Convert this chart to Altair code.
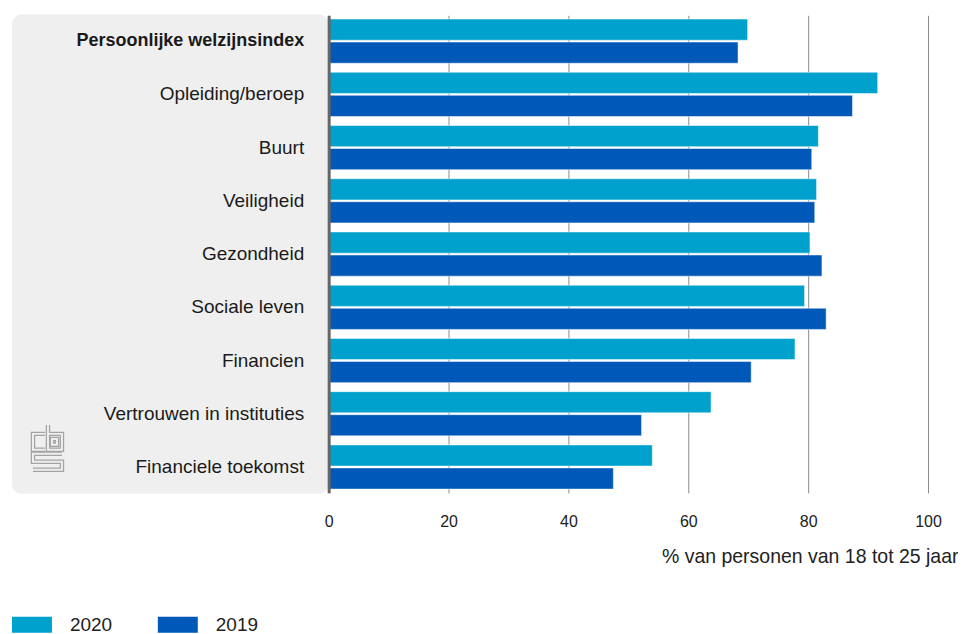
import altair as alt
import pandas as pd

categories = [
    "Persoonlijke welzijnsindex",
    "Opleiding/beroep",
    "Buurt",
    "Veiligheid",
    "Gezondheid",
    "Sociale leven",
    "Financien",
    "Vertrouwen in instituties",
    "Financiele toekomst",
]
years = ["2020", "2019"]
values_2020 = [69.9, 91.6, 81.7, 81.4, 80.3, 79.4, 77.8, 63.8, 54.0]
values_2019 = [68.3, 87.4, 80.6, 81.1, 82.3, 83.0, 70.5, 52.2, 47.5]
colors = ["#00a1cd", "#0058b8"]

rows = []
for c, a, b in zip(categories, values_2020, values_2019):
    rows.append({"cat": c, "year": "2020", "value": a})
    rows.append({"cat": c, "year": "2019", "value": b})
df = pd.DataFrame(rows)

FONT = "Liberation Sans"

bars = alt.Chart(df).mark_bar(stroke="white", strokeWidth=0.5).encode(
    x=alt.X(
        "value:Q",
        scale=alt.Scale(domain=[0, 100]),
        axis=alt.Axis(
            values=[0, 20, 40, 60, 80, 100],
            grid=True,
            gridColor="#8c8c8c",
            gridWidth=1,
            domain=False,
            ticks=False,
            tickSize=0,
            labelFlush=False,
            labelPadding=21,
            labelFontSize=16,
            labelColor="#222222",
            labelFont=FONT,
            title="% van personen van 18 tot 25 jaar",
            titleFont=FONT,
            titleFontSize=19.5,
            titleFontWeight="normal",
            titleColor="#222222",
            titleAnchor="end",
            titleAlign="right",
            titleX=630,
            titleY=55,
        ),
    ),
    y=alt.Y(
        "cat:N",
        sort=categories,
        scale=alt.Scale(paddingInner=0.17, paddingOuter=0.07),
        axis=alt.Axis(
            title=None,
            ticks=False,
            grid=False,
            domainColor="#666666",
            domainWidth=3,
            labelPadding=25,
            labelFontSize={"expr": "datum.value == 'Persoonlijke welzijnsindex' ? 18 : 19"},
            labelFont=FONT,
            labelColor="#1a1a1a",
            labelFontWeight={"expr": "datum.value == 'Persoonlijke welzijnsindex' ? 'bold' : 'normal'"},
            labelLimit=400,
            zindex=1,
        ),
    ),
    yOffset=alt.YOffset("year:N", sort=years, scale=alt.Scale(paddingInner=0.08)),
    color=alt.Color(
        "year:N",
        sort=years,
        scale=alt.Scale(domain=years, range=colors),
        legend=alt.Legend(
            title=None,
            orient="none",
            legendX=-317,
            legendY=590,
            direction="horizontal",
            symbolType="M-1,-0.4H1V0.4H-1Z",
            symbolSize=1600,
            symbolStrokeWidth=0,
            symbolOpacity=1,
            labelFontSize=19,
            labelFont=FONT,
            labelColor="#222222",
            labelOffset=18,
            columnPadding=45,
            padding=0,
        ),
    ),
)

panel = alt.Chart(pd.DataFrame({"p": [1]})).mark_rect(
    color="#efefef", cornerRadius=10
).encode(
    x=alt.value(-317), x2=alt.value(0), y=alt.value(-1), y2=alt.value(479)
)

logo_path = (
    "M-0.085,-0.596H-0.596V0.085H-0.085"
    "M0.043,-0.979V0.085H0.638V-0.596H0.043"
    "M0.213,-0.383H0.426V-0.128H0.213Z"
    "M0.638,0.255H-0.596V0.596H0.638V0.936H-0.596"
)
logo_outer = alt.Chart(pd.DataFrame({"p": [1]})).mark_point(
    shape=logo_path, filled=False, stroke="#a3a3a3", strokeWidth=4.5, size=2209, opacity=1
).encode(x=alt.value(-282), y=alt.value(433))
logo_inner = alt.Chart(pd.DataFrame({"p": [1]})).mark_point(
    shape=logo_path, filled=False, stroke="#efefef", strokeWidth=2, size=2209, opacity=1
).encode(x=alt.value(-282), y=alt.value(433))

chart = alt.layer(panel, bars, logo_outer, logo_inner).properties(
    width=600,
    height=478,
    padding={"left": 4, "top": 6, "right": 0, "bottom": 0},
).configure_view(stroke=None)

chart.save("out.html", embed_options={"renderer": "svg", "actions": False})
